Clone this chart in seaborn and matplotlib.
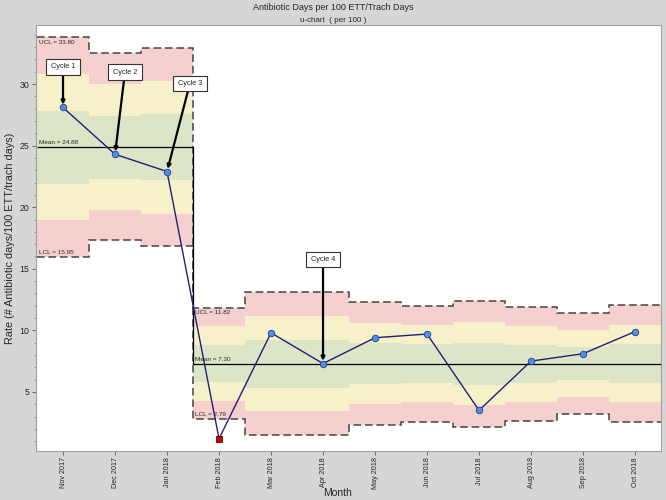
import numpy as np
import matplotlib
matplotlib.use("Agg")
import matplotlib.pyplot as plt
import seaborn as sns

# ── data ──
months = ["Nov 2017", "Dec 2017", "Jan 2018", "Feb 2018", "Mar 2018", "Apr 2018",
          "May 2018", "Jun 2018", "Jul 2018", "Aug 2018", "Sep 2018", "Oct 2018"]
rate = [28.1, 24.3, 22.9, 1.2, 9.8, 7.3, 9.4, 9.7, 3.5, 7.5, 8.1, 9.9]
ucl = [33.80, 32.56, 32.97, 11.82, 13.13, 13.13, 12.28, 11.99, 12.40, 11.93, 11.42, 12.04]
lcl = [15.95, 17.30, 16.87, 2.79, 1.47, 1.47, 2.32, 2.59, 2.18, 2.63, 3.18, 2.53]
phase_mean = [24.88, 7.30]
phase = [0, 0, 0, 1, 1, 1, 1, 1, 1, 1, 1, 1]
cycles = ["Cycle 1", "Cycle 2", "Cycle 3", "Cycle 4"]
cycle_month = [0, 1, 2, 5]

# ── styling ──
sns.set_style("white")
plt.rcParams['font.family'] = ['Liberation Sans', 'DejaVu Sans']

RED = "#f6cfcf"
YELLOW = "#f6f1c9"
GREEN = "#dce6c6"
BG = "#d6d6d6"

x = np.arange(len(months))
edges = np.arange(len(months) + 1) - 0.5
ucl_a = np.array(ucl)
lcl_a = np.array(lcl)
center = np.array([phase_mean[p] for p in phase])
sigma = (ucl_a - center) / 3

fig = plt.figure(figsize=(6.66, 5), dpi=100, facecolor=BG)
ax = fig.add_axes([36 / 666, 49 / 500, 625 / 666, 426 / 500])
ax.set_facecolor("white")

# zones
ax.stairs(ucl_a, edges, baseline=center + 2 * sigma, fill=True, color=RED, lw=0)
ax.stairs(center + 2 * sigma, edges, baseline=center + sigma, fill=True, color=YELLOW, lw=0)
ax.stairs(center + sigma, edges, baseline=center - sigma, fill=True, color=GREEN, lw=0)
ax.stairs(center - sigma, edges, baseline=center - 2 * sigma, fill=True, color=YELLOW, lw=0)
ax.stairs(center - 2 * sigma, edges, baseline=lcl_a, fill=True, color=RED, lw=0)

# limits and mean
ax.stairs(ucl_a, edges, baseline=None, color="#444444", lw=1.1, ls=(0, (5, 2.5)))
ax.stairs(lcl_a, edges, baseline=None, color="#444444", lw=1.1, ls=(0, (5, 2.5)))
ax.stairs(center, edges, baseline=None, color="black", lw=0.9)

# data line
sns.lineplot(x=x, y=rate, ax=ax, color="#1f1f7a", lw=1.0)
rate_a = np.array(rate)
out = (rate_a > ucl_a) | (rate_a < lcl_a)
sns.scatterplot(x=x[~out], y=rate_a[~out], ax=ax, color="#4f8fe6", edgecolor="#1f3f8a",
                s=22, linewidth=0.6, zorder=5)
sns.scatterplot(x=x[out], y=rate_a[out], ax=ax, color="#d40000", edgecolor="#600000",
                marker="s", s=24, linewidth=0.6, zorder=5)

# limit labels
starts = [0, 3]
for p, i in enumerate(starts):
    ax.text(i - 0.47, ucl[i] - 0.2, f"UCL = {ucl[i]:.2f}", fontsize=4.6, va="top", ha="left")
    ax.text(i - 0.47, phase_mean[p] + 0.15, f"Mean = {phase_mean[p]:.2f}", fontsize=4.6,
            va="bottom", ha="left")
    ax.text(i - 0.47, lcl[i] + 0.2, f"LCL = {lcl[i]:.2f}", fontsize=4.6, va="bottom", ha="left")

# cycle annotations
box_pos = [(0.0, 31.4), (1.19, 30.95), (2.44, 30.05), (5.0, 15.75)]
for label, m, pos in zip(cycles, cycle_month, box_pos):
    ax.annotate(label, xy=(m, rate[m]), xytext=pos, fontsize=5.3, ha="center", va="center",
                bbox=dict(boxstyle="square,pad=0.6", fc="white", ec="#333333", lw=0.8),
                arrowprops=dict(arrowstyle="->", color="black", lw=1.6, shrinkA=0, shrinkB=2),
                zorder=6)

ax.set_xlim(-0.52, 11.5)
ax.set_ylim(0.2, 34.8)
ax.set_xticks(x)
ax.set_xticklabels(months, rotation=90, fontsize=5.2)
ax.set_yticks([5, 10, 15, 20, 25, 30])
ax.set_yticks(np.arange(1, 35), minor=True)
ax.tick_params(axis="both", which="major", direction="out", length=3, width=0.6,
               color="#555555", labelsize=6.3, pad=2)
ax.tick_params(axis="y", which="minor", direction="out", length=1.5, width=0.5, color="#888888")
ax.tick_params(axis="x", labelsize=5.2, pad=1.5)
ax.tick_params(bottom=True, left=True, which="both")
for s in ax.spines.values():
    s.set_color("#a0a0a0")
    s.set_linewidth(0.8)

ax.set_ylabel("Rate (# Antibiotic days/100 ETT/trach days)", fontsize=7.8, labelpad=3)
fig.text(338 / 666, 0.014, "Month", ha="center", va="center", fontsize=7.5)

fig.text(0.5, 0.984, "Antibiotic Days per 100 ETT/Trach Days", ha="center", va="center",
         fontsize=6.5)
fig.text(0.5, 0.96, "u-chart  ( per 100 )", ha="center", va="center", fontsize=5.8)

fig.savefig("out.png", dpi=100, facecolor=BG)
